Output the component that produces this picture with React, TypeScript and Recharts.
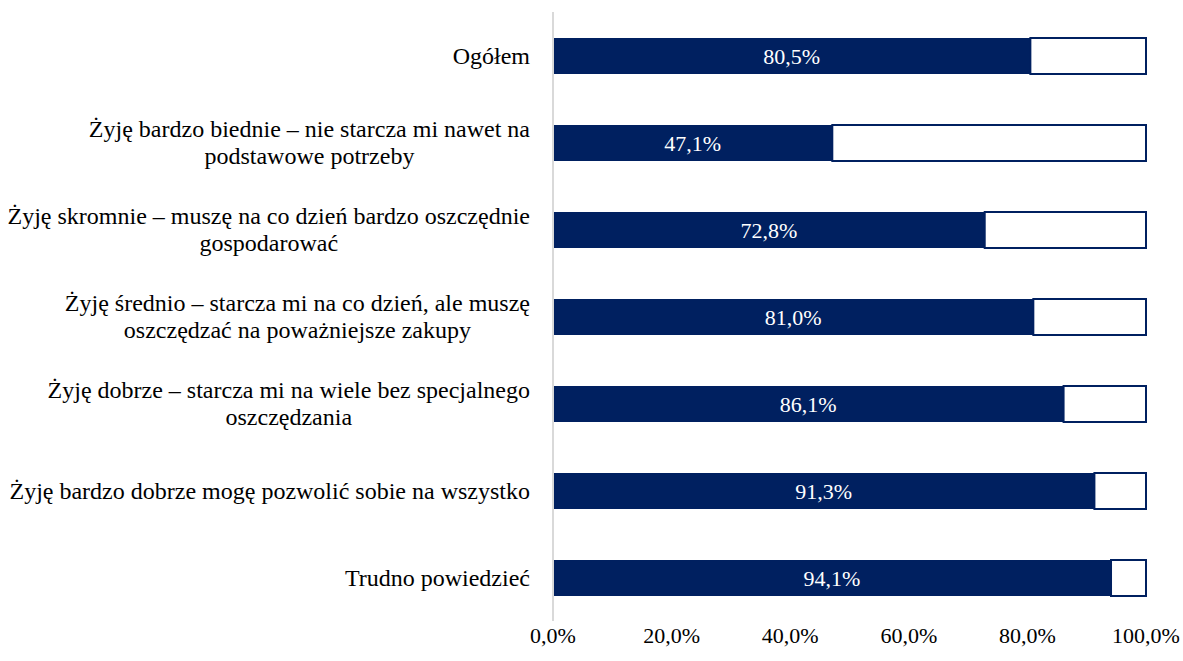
import React from 'react';
import { BarChart, Bar, XAxis, YAxis, LabelList } from 'recharts';

// category labels, '\n' marks where the original wraps
const CATEGORIES = [
  'Ogółem',
  'Żyję bardzo biednie – nie starcza mi nawet na\npodstawowe potrzeby',
  'Żyję skromnie – muszę na co dzień bardzo oszczędnie\ngospodarować',
  'Żyję średnio – starcza mi na co dzień, ale muszę\noszczędzać na poważniejsze zakupy',
  'Żyję dobrze – starcza mi na wiele bez specjalnego\noszczędzania',
  'Żyję bardzo dobrze mogę pozwolić sobie na wszystko',
  'Trudno powiedzieć',
];

const YES = [80.5, 47.1, 72.8, 81.0, 86.1, 91.3, 94.1];
const REST = [19.5, 52.9, 27.2, 19.0, 13.9, 8.7, 5.9];

const X_TICKS = [0, 20, 40, 60, 80, 100];

const NAVY = '#002060';
const FONT = '"Liberation Serif", "Times New Roman", serif';
const CAT_SIZE = 24;
const NUM_SIZE = 22;

const data = CATEGORIES.map((name, i) => ({ name, yes: YES[i], rest: REST[i] }));

const pct = (v: number) => v.toFixed(1).replace('.', ',') + '%';

let ctx: CanvasRenderingContext2D | null = null;
const measure = (s: string) => {
  if (!ctx) {
    ctx = document.createElement('canvas').getContext('2d');
    if (ctx) ctx.font = `${CAT_SIZE}px ${FONT}`;
  }
  return ctx ? ctx.measureText(s).width : s.length * 10;
};

const CategoryTick = ({ x, y, payload }: any) => {
  const lines: string[] = String(payload.value).split('\n');
  const maxW = Math.max(...lines.map(measure));
  const right = x - 15;
  const cx = right - maxW / 2;
  const lh = 27;
  const top = y - ((lines.length - 1) * lh) / 2;
  return (
    <text
      x={cx}
      y={top}
      textAnchor="middle"
      fill="#000"
      fontFamily={FONT}
      fontSize={CAT_SIZE}
    >
      {lines.map((l, i) => (
        <tspan key={i} x={cx} y={top + i * lh} dy="0.35em">
          {l}
        </tspan>
      ))}
    </text>
  );
};

export default function App() {
  return (
    <div style={{ position: 'absolute', left: 0, top: 0, background: '#fff' }}>
      <BarChart
        width={1183}
        height={661}
        data={data}
        layout="vertical"
        margin={{ top: 12, right: 37, bottom: 10, left: 0 }}
        barSize={36}
      >
        <XAxis
          type="number"
          domain={[0, 100]}
          ticks={X_TICKS}
          tickFormatter={pct}
          axisLine={false}
          tickLine={false}
          tickSize={0}
          tickMargin={6}
          height={30}
          interval={0}
          tick={{ fill: '#000', fontFamily: FONT, fontSize: NUM_SIZE }}
        />
        <YAxis
          type="category"
          dataKey="name"
          width={553}
          axisLine={{ stroke: '#D9D9D9', strokeWidth: 2 }}
          tickLine={false}
          interval={0}
          tick={<CategoryTick />}
        />
        <Bar dataKey="yes" stackId="a" fill={NAVY} isAnimationActive={false}>
          <LabelList
            dataKey="yes"
            position="center"
            formatter={(v: any) => pct(Number(v))}
            fill="#fff"
            stroke="none"
            fontFamily={FONT}
            fontSize={NUM_SIZE}
          />
        </Bar>
        <Bar
          dataKey="rest"
          stackId="a"
          fill="#fff"
          stroke={NAVY}
          strokeWidth={2}
          isAnimationActive={false}
        />
      </BarChart>
    </div>
  );
}
